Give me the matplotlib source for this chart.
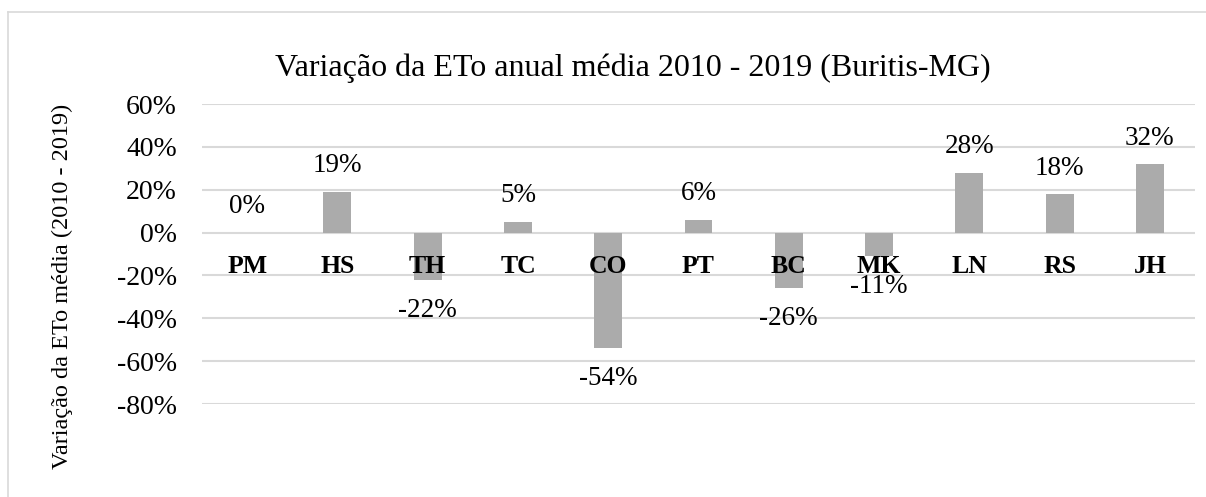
import matplotlib
matplotlib.use("Agg")
import matplotlib.pyplot as plt
from matplotlib.lines import Line2D
from matplotlib.ticker import FuncFormatter

categories = ["PM", "HS", "TH", "TC", "CO", "PT", "BC", "MK", "LN", "RS", "JH"]
values = [0.00, 0.19, -0.22, 0.05, -0.54, 0.06, -0.26, -0.11, 0.28, 0.18, 0.32]
labels = ["0%", "19%", "-22%", "5%", "-54%", "6%", "-26%", "-11%", "28%", "18%", "32%"]
yticks = [-0.8, -0.6, -0.4, -0.2, 0.0, 0.2, 0.4, 0.6]
title = "Variação da ETo anual média 2010 - 2019 (Buritis-MG)"
ylabel = "Variação da ETo média (2010 - 2019)"

plt.rcParams["font.family"] = ["Liberation Serif", "DejaVu Serif"]

W, H = 1206, 497
fig = plt.figure(figsize=(W / 100, H / 100), dpi=100)
# chart-area border (only top and left visible, the rest is cropped)
fig.add_artist(Line2D([8 / W, 1.05], [1 - 12 / H, 1 - 12 / H], transform=fig.transFigure,
                      color="#D9D9D9", linewidth=1.2))
fig.add_artist(Line2D([8 / W, 8 / W], [1 - 12 / H, -0.05], transform=fig.transFigure,
                      color="#D9D9D9", linewidth=1.2))

ax = fig.add_axes([202 / W, 93 / H, (1195 - 202) / W, 300 / H])
x = list(range(len(categories)))
ax.bar(x, values, width=0.31, color="#ABABAB", zorder=3)
ax.set_xlim(-0.5, len(categories) - 0.5)
ax.set_ylim(-0.8, 0.6)
ax.set_yticks(yticks)
ax.yaxis.set_major_formatter(FuncFormatter(lambda v, p: f"{v*100:.0f}%"))
ax.tick_params(axis="y", length=0, pad=18, labelsize=20)
ax.set_xticks([])
ax.grid(axis="y", color="#D9D9D9", linewidth=1.5, zorder=0)
for s in ax.spines.values():
    s.set_visible(False)

for xi, v, lab in zip(x, values, labels):
    if v >= 0:
        ax.annotate(lab, (xi, v), xytext=(0, 14), textcoords="offset points",
                    ha="center", va="baseline", fontsize=19.5, zorder=4)
    else:
        ax.annotate(lab, (xi, v), xytext=(0, -26.6), textcoords="offset points",
                    ha="center", va="baseline", fontsize=19.5, zorder=4)
    ax.annotate(categories[xi], (xi, 0), xytext=(0, -28.8), textcoords="offset points",
                ha="center", va="baseline", fontsize=18.5, fontweight="bold", zorder=5)

fig.text(633 / W, 1 - 76 / H, title, ha="center", va="baseline", fontsize=23)
fig.text(62 / W, 1 - 286 / H, ylabel, ha="center", va="center", rotation=90, fontsize=17.5)

fig.savefig("out.png", dpi=100)
